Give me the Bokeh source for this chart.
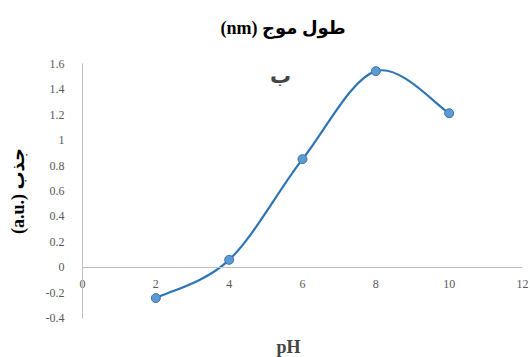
from bokeh.plotting import figure
from bokeh.models import Range1d, FixedTicker, Label, Title
from bokeh.embed import file_html
from bokeh.resources import INLINE

# ---- data ----
ph = [2, 4, 6, 8, 10]
absorbance = [-0.24, 0.06, 0.85, 1.54, 1.21]
x_ticks = [0, 2, 4, 6, 8, 10, 12]
y_ticks = [-0.4, -0.2, 0, 0.2, 0.4, 0.6, 0.8, 1.0, 1.2, 1.4, 1.6]
title_text = "(nm) طول موج"
y_label_text = "(a.u.) جذب"
x_label_text = "pH"
panel_letter = "ب"

SERIF = "'Liberation Serif', 'DejaVu Serif', 'DejaVu Sans'"
LINE = "#2e75b6"

# The frame fills the canvas below the title; both axes are pinned at 0
# and bounded to the data extent, like the Excel chart they copy.
p = figure(width=530, height=357, output_backend="svg", toolbar_location=None,
           x_range=Range1d(-2.236, 12.218), y_range=Range1d(-0.706, 1.804),
           min_border_left=0, min_border_right=0, min_border_top=37,
           min_border_bottom=0)

p.title = Title(text=title_text, align="left", text_font=SERIF,
                text_font_size="18px", text_font_style="bold",
                text_color="#000000", standoff=0, offset=220)

p.outline_line_color = None
p.xgrid.grid_line_color = None
p.ygrid.grid_line_color = None

for ax in (p.xaxis[0], p.yaxis[0]):
    ax.axis_line_color = "#bfbfbf"
    ax.axis_line_width = 1
    ax.major_tick_line_color = None
    ax.minor_tick_line_color = None
    ax.major_label_text_font = SERIF
    ax.major_label_text_font_size = "12px"
    ax.major_label_text_color = "#595959"

p.xaxis.ticker = FixedTicker(ticks=x_ticks)
p.yaxis.ticker = FixedTicker(ticks=y_ticks)
p.xaxis.bounds = (0, 12)
p.yaxis.bounds = (-0.4, 1.6)
p.xaxis.fixed_location = 0
p.yaxis.fixed_location = 0
p.xaxis.major_label_standoff = 7
p.yaxis.major_label_standoff = 12
p.yaxis.major_label_overrides = {v: ("%g" % v) for v in y_ticks}

p.yaxis.axis_label = y_label_text
p.yaxis.axis_label_text_font = SERIF
p.yaxis.axis_label_text_font_size = "18px"
p.yaxis.axis_label_text_font_style = "bold"
p.yaxis.axis_label_text_color = "#000000"
p.yaxis.axis_label_standoff = 15

# smoothed line (Catmull-Rom style Bezier through the data points)
n = len(ph)
x0, y0, x1, y1, cx0, cy0, cx1, cy1 = ([] for _ in range(8))
t = 1.0 / 6.0
for i in range(n - 1):
    pm = max(i - 1, 0)
    pp = min(i + 2, n - 1)
    x0.append(ph[i]); y0.append(absorbance[i])
    x1.append(ph[i + 1]); y1.append(absorbance[i + 1])
    cx0.append(ph[i] + (ph[i + 1] - ph[pm]) * t)
    cy0.append(absorbance[i] + (absorbance[i + 1] - absorbance[pm]) * t)
    cx1.append(ph[i + 1] - (ph[pp] - ph[i]) * t)
    cy1.append(absorbance[i + 1] - (absorbance[pp] - absorbance[i]) * t)

p.bezier(x0=x0, y0=y0, x1=x1, y1=y1, cx0=cx0, cy0=cy0, cx1=cx1, cy1=cy1,
         line_color=LINE, line_width=2.2)
p.scatter(ph, absorbance, size=9, marker="circle", fill_color="#5b9bd5",
          line_color="#41719c", line_width=1)

p.add_layout(Label(x=5.4, y=1.5, text=panel_letter, text_font=SERIF,
                   text_font_size="21px", text_font_style="bold",
                   text_align="center", text_baseline="middle"))
p.add_layout(Label(x=5.62, y=-0.62, text=x_label_text, text_font=SERIF,
                   text_font_size="18px", text_font_style="bold",
                   text_align="center", text_baseline="middle"))

open("out.html", "w").write(file_html(p, INLINE))
